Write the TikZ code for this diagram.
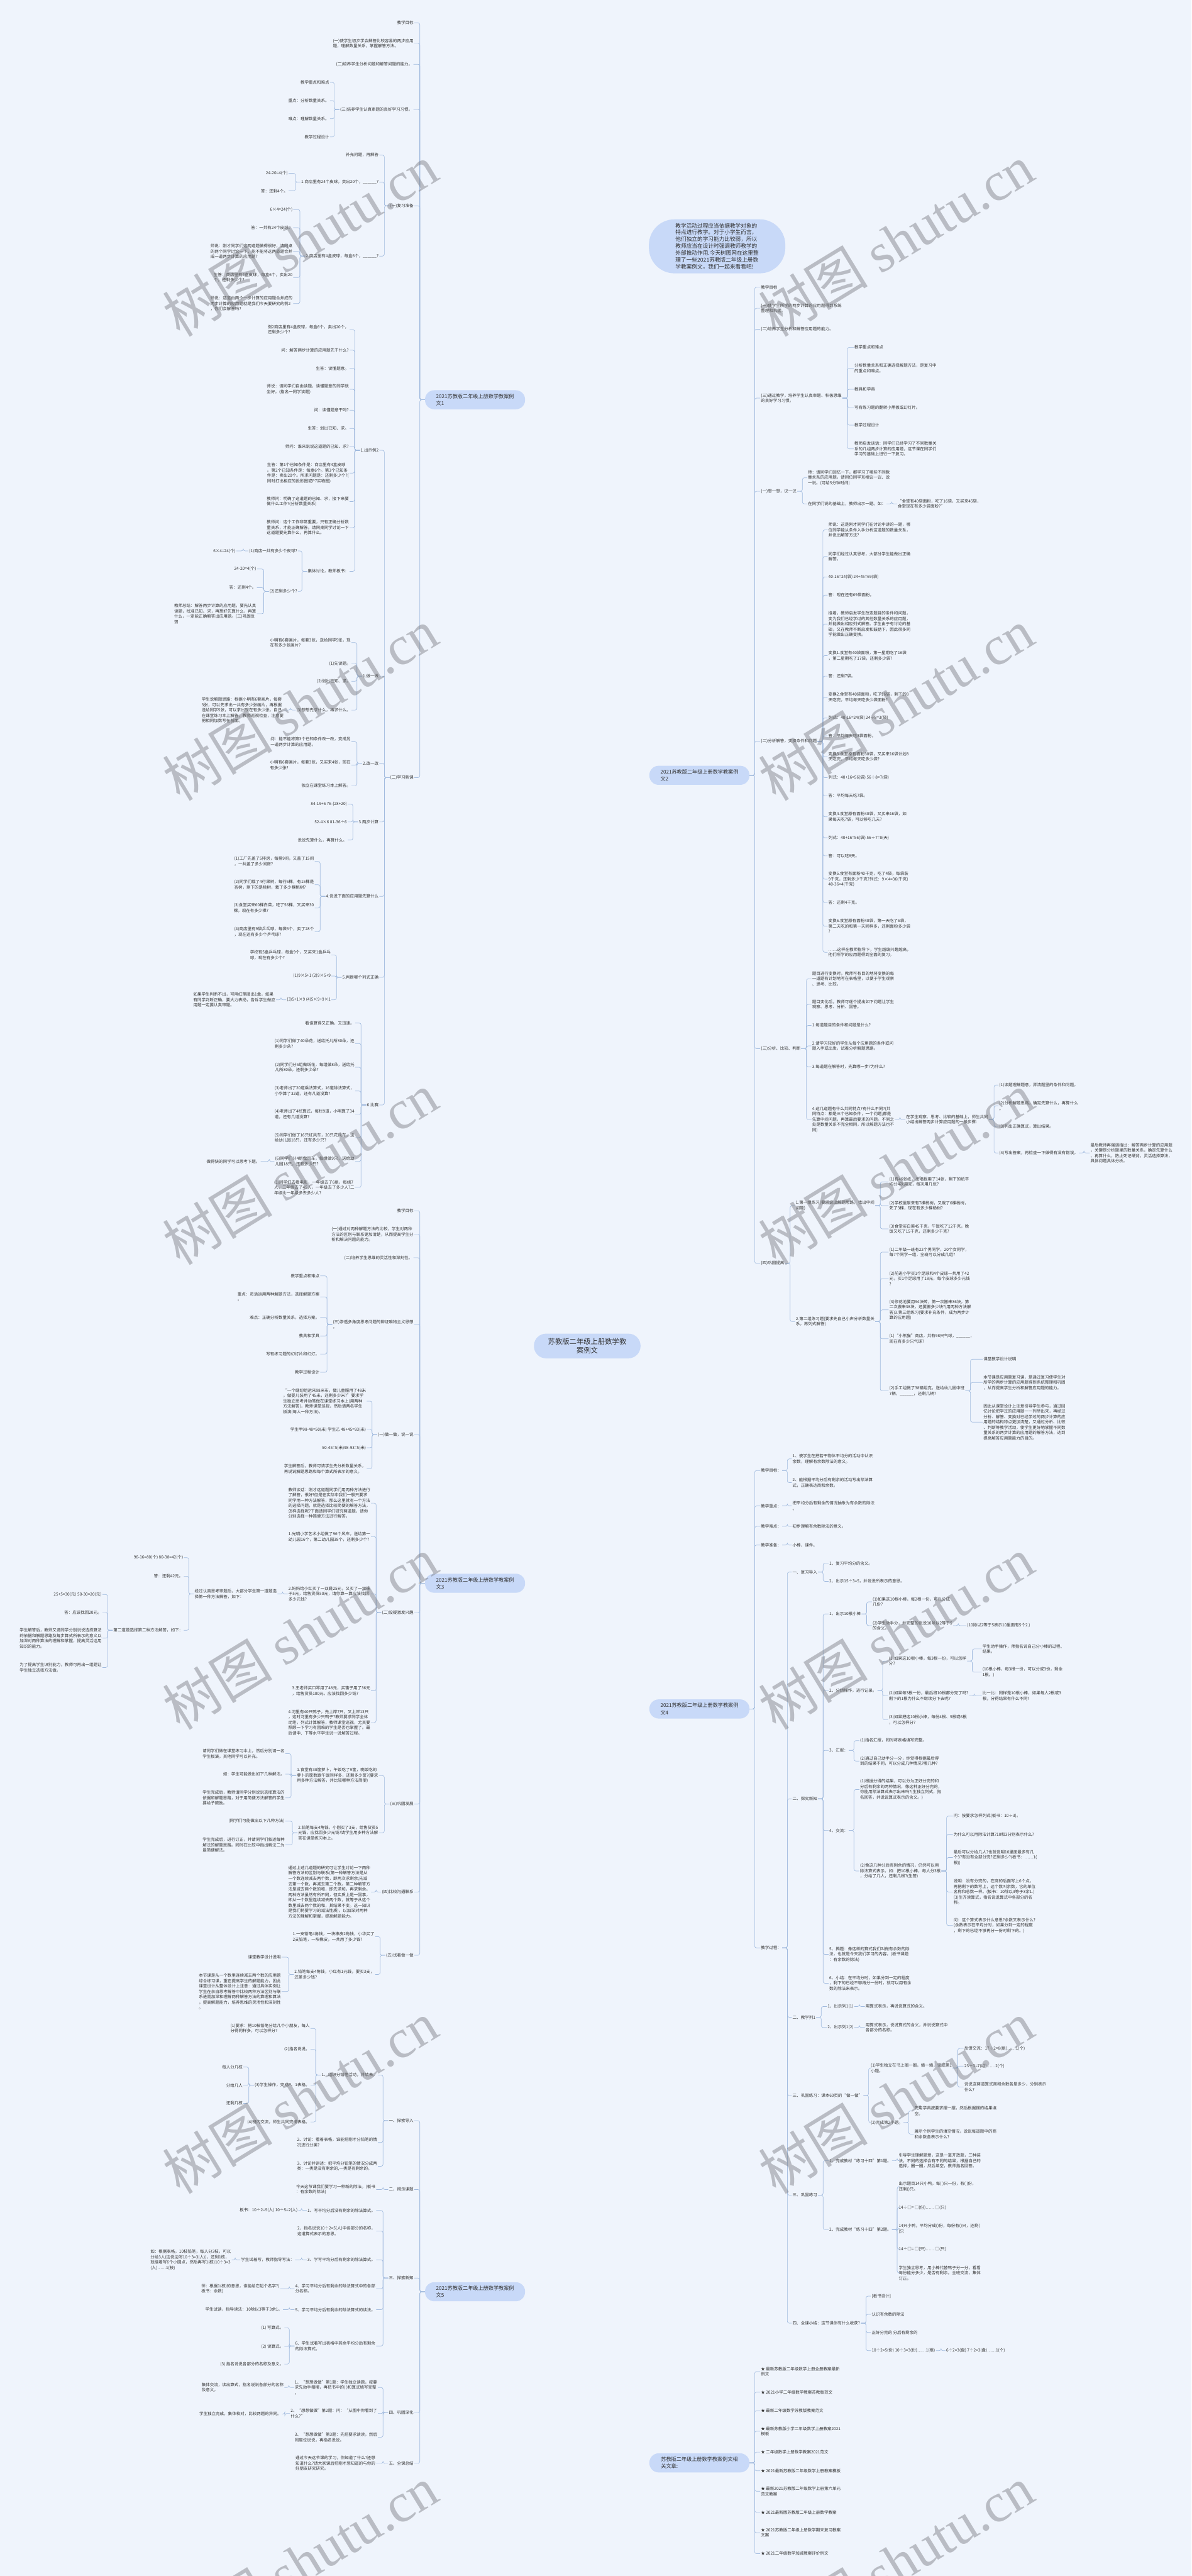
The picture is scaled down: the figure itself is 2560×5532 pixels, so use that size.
\documentclass[tikz,border=0pt]{standalone}
\usepackage{fontspec}
\setmainfont{Noto Sans CJK SC}
\newfontfamily\wmlatin{Liberation Serif}
\definecolor{bgc}{RGB}{239,244,252}
\definecolor{boxc}{RGB}{200,217,248}
\definecolor{linec}{RGB}{160,186,222}
\definecolor{txtc}{RGB}{50,50,50}
\definecolor{wmc}{RGB}{120,122,128}
\pgfdeclarelayer{bg}
\pgfsetlayers{bg,main}
\tikzset{
  leaf/.style={font=\fontsize{8.8}{11.5}\selectfont, text=txtc, inner sep=1.5pt, align=left},
  conn/.style={draw=linec, line width=0.9pt, rounded corners=4pt},
  mainconn/.style={draw=linec, line width=1.4pt},
  branchbox/.style={fill=boxc, rounded corners=20pt, font=\fontsize{11}{15}\selectfont, text=txtc, align=left, minimum width=215pt, minimum height=41pt, inner sep=0pt},
  wm/.style={text=wmc, text opacity=0.45, font=\fontsize{118}{118}\selectfont, rotate=31.4, inner sep=0pt}
}
\newcommand\LN[5]{\node[leaf,anchor=east] (#1) at (#3,#4) {#5};\draw[conn] (#2.west) -- ++(-11,0) |- (#1.east);}
\newcommand\RN[5]{\node[leaf,anchor=west] (#1) at (#3,#4) {#5};\draw[conn] (#2.east) -- ++(11,0) |- (#1.west);}
\begin{document}
\begin{tikzpicture}[x=1pt,y=-1pt]
\fill[bgc] (0,0) rectangle (2560,5532);
\useasboundingbox (0,0) rectangle (2560,5532);

% central and branch nodes
\node[fill=boxc, rounded corners=26pt, minimum width=229pt, minimum height=53pt, inner sep=0pt, align=center, text=txtc, font=\fontsize{15.3}{20}\selectfont] (C) at (1261.5,2890.5) {苏教版二年级上册数学教\\案例文};
\node[fill=boxc, rounded corners=55pt, minimum width=293pt, minimum height=116pt, inner sep=0pt, align=left, text=txtc, font=\fontsize{11.7}{14.8}\selectfont] (I) at (1540.5,529) {教学活动过程应当依据教学对象的\\特点进行教学。对于小学生而言，\\他们独立的学习能力比较弱，所以\\教师应当在设计时强调教师教学的\\外部推动作用.今天树图网在这里整\\理了一些2021苏教版二年级上册数\\学教案例文，我们一起来看看吧!};
\node[branchbox] (B1) at (1020.5,858.5) {2021苏教版二年级上册数学教案例\\文1};
\node[branchbox] (B3) at (1020.5,3400) {2021苏教版二年级上册数学教案例\\文3};
\node[branchbox] (B5) at (1020.5,4921.5) {2021苏教版二年级上册数学教案例\\文5};
\node[branchbox] (B2) at (1502.5,1665) {2021苏教版二年级上册数学教案例\\文2};
\node[branchbox] (B4) at (1502.5,3670) {2021苏教版二年级上册数学教案例\\文4};
\node[branchbox] (B6) at (1502.5,5289) {苏教版二年级上册数学教案例文相\\关文章:};

\begin{pgfonlayer}{bg}
\draw[mainconn] (C.center) .. controls (1262,529) .. (I.west);
\draw[mainconn] (C.center) .. controls (1262,1665) .. (B2.west);
\draw[mainconn] (C.center) .. controls (1262,3670) .. (B4.west);
\draw[mainconn] (C.center) .. controls (1262,5289) .. (B6.west);
\draw[mainconn] (C.center) .. controls (1262,858.5) .. (B1.east);
\draw[mainconn] (C.center) .. controls (1262,3400) .. (B3.east);
\draw[mainconn] (C.center) .. controls (1262,4921.5) .. (B5.east);
\end{pgfonlayer}

% ===== Branch 1 =====
\LN{a1}{B1}{890}{49}{教学目标}
\LN{a2}{B1}{890}{93}{(一)使学生初步学会解答比较容易的两步应用\\题，理解数量关系，掌握解答方法。}
\LN{a3}{B1}{888}{138}{(二)培养学生分析问题和解答问题的能力。}
\LN{a4}{B1}{888}{235}{(三)培养学生认真审题的良好学习习惯。}
\LN{a4a}{a4}{709}{177}{教学重点和难点}
\LN{a4b}{a4}{709}{216}{重点：分析数量关系。}
\LN{a4c}{a4}{709}{255}{难点：理解数量关系。}
\LN{a4d}{a4}{709}{294}{教学过程设计}
\LN{a5}{B1}{890}{442}{(一)复习准备}
\LN{a5a}{a5}{815}{333}{补充问题，再解答}
\LN{a5b}{a5}{815}{391}{1.商店里有24个皮球，卖出20个，\_\_\_\_\_\_?}
\LN{a5b1}{a5b}{620}{372}{24-20=4(个)}
\LN{a5b2}{a5b}{620}{410}{答：还剩4个。}
\LN{a5c}{a5}{815}{550}{2.商店里有4盒皮球，每盒6个，\_\_\_\_\_\_?}
\LN{a5c1}{a5c}{630}{450}{6×4=24(个)}
\LN{a5c2}{a5c}{630}{489}{答：一共有24个皮球。}
\LN{a5c3}{a5c}{630}{540}{师说：刚才同学们这两道题做得很好，请同桌\\的两个同学讨论一下，能不能将这两道题合并\\成一道两步计算的应用题?}
\LN{a5c4}{a5c}{630}{596}{生答：商店里有4盒皮球，每盒6个，卖出20\\个，还剩多少个?}
\LN{a5c5}{a5c}{630}{652}{师说：这道由两个一步计算的应用题合并成的\\两步计算的应用题就是我们今天要研究的例2\\，你们会解答吗?}
\LN{a6}{B1}{890}{1670}{(二)学习新课}
\LN{a6a}{a6}{815}{967}{1.出示例2}
\LN{a6a1}{a6a}{751}{708}{例2商店里有4盒皮球，每盒6个，卖出20个，\\还剩多少个?}
\LN{a6a2}{a6a}{751}{752}{问：解答两步计算的应用题先干什么?}
\LN{a6a3}{a6a}{751}{791}{生答：读懂题意。}
\LN{a6a4}{a6a}{751}{836}{师说：请同学们自由读题，读懂题意的同学就\\坐好。(指名一同学读题)}
\LN{a6a5}{a6a}{751}{881}{问：读懂题意干吗?}
\LN{a6a6}{a6a}{751}{920}{生答：划出已知、求。}
\LN{a6a7}{a6a}{751}{959}{师问：谁来说说这道题的已知、求?}
\LN{a6a8}{a6a}{751}{1016}{生答：第1个已知条件是：商店里有4盒皮球\\。第2个已知条件是：每盒6个。第3个已知条\\件是：卖出20个。所求问题是：还剩多少个?(\\同时打出相应的投影图或P7实物图)}
\LN{a6a9}{a6a}{751}{1077}{教师问：明确了这道题的已知、求，接下来要\\做什么工作?(分析数量关系)}
\LN{a6a10}{a6a}{751}{1133}{教师问：这个工作非常重要，只有正确分析数\\量关系，才能正确解答。请同桌同学讨论一下\\这道题要先算什么，再算什么。}
\LN{a6a11}{a6a}{751}{1227}{集体讨论，教师板书：}
\LN{a6b1}{a6a11}{640}{1183}{(1)商店一共有多少个皮球?}
\LN{a6b1a}{a6b1}{508}{1183}{6×4=24(个)}
\LN{a6b2}{a6a11}{640}{1270}{(2)还剩多少个?}
\LN{a6b2a}{a6b2}{552}{1222}{24-20=4(个)}
\LN{a6b2b}{a6b2}{552}{1262}{答：还剩4个。}
\LN{a6b2c}{a6b2}{552}{1318}{教师总结：解答两步计算的应用题，要先认真\\读题，找准已知、求，再想好先算什么，再算\\什么，一定能正确解答出应用题。(三)巩固反\\馈}
\LN{a6c}{a6}{815}{1452}{1.做一做}
\LN{a6c1}{a6c}{755}{1380}{小明有6套画片，每套3张，送给同学5张，现\\在有多少张画片?}
\LN{a6c2}{a6c}{755}{1425}{(1)先读题。}
\LN{a6c3}{a6c}{755}{1463}{(2)划出已知、求。}
\LN{a6c4}{a6c}{755}{1525}{(3)想想先求什么，再求什么。}
\LN{a6c4a}{a6c4}{611}{1525}{学生说解题思路：根据小明有6套画片，每套\\3张，可以先求出一共有多少张画片，再根据\\送给同学5张，可以求出现在有多少张。自己\\在课堂练习本上解答，教师巡视检查，注意要\\把相同加数写在前面。}
\LN{a6d}{a6}{815}{1639}{2.改一改}
\LN{a6d1}{a6d}{755}{1593}{问：能不能将第3个已知条件改一改，变成另\\一道两步计算的应用题。}
\LN{a6d2}{a6d}{755}{1643}{小明有6套画片，每套3张，又买来4张，现在\\有多少张?}
\LN{a6d3}{a6d}{755}{1687}{独立在课堂练习本上解答。}
\LN{a6e}{a6}{815}{1765}{3.两步计算}
\LN{a6e1}{a6e}{747}{1727}{84-19+6 76-(28+20)}
\LN{a6e2}{a6e}{747}{1765}{52-4×6 81-36÷6}
\LN{a6e3}{a6e}{747}{1804}{说说先算什么，再算什么。}
\LN{a6f}{a6}{815}{1925}{4.说说下面的应用题先算什么}
\LN{a6f1}{a6f}{676}{1850}{(1)工厂先盖了5排房，每排9间，又盖了15间\\，一共盖了多少间房?}
\LN{a6f2}{a6f}{676}{1900}{(2)同学们栽了4行果树，每行6棵，有15棵是\\杏树，剩下的是桃树，栽了多少棵桃树?}
\LN{a6f3}{a6f}{676}{1950}{(3)食堂买来60棵白菜，吃了56棵，又买来30\\棵，现在有多少棵?}
\LN{a6f4}{a6f}{676}{2001}{(4)商店里有9袋乒乓球，每袋5个，卖了28个\\，现在还有多少个乒乓球?}
\LN{a6g}{a6}{815}{2099}{5.判断哪个列式正确}
\LN{a6g1}{a6g}{712}{2051}{学校有5盒乒乓球，每盒9个，又买来1盒乒乓\\球，现在有多少个?}
\LN{a6g2}{a6g}{712}{2096}{(1)9×5+1 (2)9×5+9}
\LN{a6g3}{a6g}{712}{2147}{(3)5+1×9 (4)5×9+9×1}
\LN{a6g3a}{a6g3}{593}{2147}{如果学生判断不出，可用红笔圈出1盒，如果\\有同学判断正确，要大力表扬，告诉学生做应\\用题一定要认真审题。}
\LN{a6h}{a6}{815}{2373}{6.比赛}
\LN{a6h1}{a6h}{763}{2197}{看谁算得又正确，又迅速。}
\LN{a6h2}{a6h}{763}{2241}{(1)同学们做了40朵花，送给托儿所30朵，还\\剩多少朵?}
\LN{a6h3}{a6h}{763}{2292}{(2)同学们分5组做纸花，每组做8朵，送给托\\儿所30朵，还剩多少朵?}
\LN{a6h4}{a6h}{763}{2343}{(3)老师出了20道乘法算式，16道除法算式，\\小华算了32道，还有几道没算?}
\LN{a6h5}{a6h}{763}{2393}{(4)老师出了4栏算式，每栏9道，小明算了34\\道，还有几道没算?}
\LN{a6h6}{a6h}{763}{2443}{(5)同学们做了16只红风车，20只花风车，送\\给幼儿园18只，还有多少只?}
\LN{a6h7}{a6h}{763}{2494}{(6)同学们分4组做风车，每组做9只，送给幼\\儿园18只，还有多少只?}
\LN{a6h7a}{a6h7}{560}{2494}{做得快的同学可以思考下题。}
\LN{a6h8}{a6h}{763}{2550}{(1)同学们去看电影，一年级去了6组，每组7\\人，二年级去了45人，一年级去了多少人?二\\年级比一年级多去多少人?}

% ===== Branch 3 =====
\LN{c1}{B3}{890}{2600}{教学目标}
\LN{c2}{B3}{890}{2651}{(一)通过对两种解题方法的比较，学生对两种\\方法的区别与联系更加清楚，从而提高学生分\\析和解决问题的能力。}
\LN{c3}{B3}{888}{2701}{(二)培养学生思维的灵活性和深刻性。}
\LN{c4}{B3}{890}{2844}{(三)渗透多角度思考问题的辩证唯物主义思想\\。}
\LN{c4a}{c4}{688}{2740}{教学重点和难点}
\LN{c4b}{c4}{688}{2785}{重点：灵活运用两种解题方法，选择解题方案\\。}
\LN{c4c}{c4}{688}{2829}{难点：正确分析数量关系，选择方案。}
\LN{c4d}{c4}{688}{2869}{教具和学具}
\LN{c4e}{c4}{688}{2908}{写有练习题的幻灯片和幻灯。}
\LN{c4f}{c4}{688}{2947}{教学过程设计}
\LN{c5}{B3}{890}{3081}{(一)做一做，说一说}
\LN{c5a}{c5}{788}{3009}{“一个缝纫组运来98米布，做儿童服用了48米\\，做婴儿装用了45米，还剩多少米?”要求学\\生独立思考并动笔做在课堂练习本上(用两种\\方法解答)，教师课堂巡视，然后请两名学生\\板演(每人一种方法)。}
\LN{c5b}{c5}{788}{3070}{学生甲98-48=50(米) 学生乙 48+45=93(米)}
\LN{c5c}{c5}{788}{3109}{50-45=5(米)98-93=5(米)}
\LN{c5d}{c5}{788}{3154}{学生解答后，教师可请学生先分析数量关系，\\再说说解题思路和每个算式所表示的意义。}
\LN{c6}{B3}{890}{3463}{(二)设疑激发兴趣}
\LN{c6a}{c6}{797}{3228}{教师谈话：刚才这道题同学们用两种方法进行\\了解答，很好!但是在实际中我们一般只要求\\同学用一种方法解答，那么这里就有一个方法\\的选择问题，就是选择比较简便的解答方法，\\怎样选择呢?下面请同学们研究两道题，请你\\分别选择一种简便方法进行解答。}
\LN{c6b}{c6}{797}{3300}{1.光明小学艺术小组做了96个风车，送给第一\\幼儿园16个，第二幼儿园38个，还剩多少个?}
\LN{c6c}{c6}{797}{3423}{2.妈妈给小红买了一双鞋25元，又买了一双袜\\子5元，给售货员50元，请你算一算应该找回\\多少元钱?}
\LN{c6c1}{c6c}{596}{3423}{经过认真思考审题后，大部分学生第一道题选\\择第一种方法解答，如下：}
\LN{c6c1a}{c6c1}{395}{3345}{96-16=80(个) 80-38=42(个)}
\LN{c6c1b}{c6c1}{395}{3385}{答：还剩42元。}
\LN{c6c1c}{c6c1}{395}{3501}{第二道题选择第二种方法解答，如下：}
\LN{d1}{c6c1c}{220}{3424}{25+5=30(元) 50-30=20(元)}
\LN{d2}{c6c1c}{220}{3463}{答：应该找回20元。}
\LN{d3}{c6c1c}{220}{3518}{学生解答后，教师又请同学分别说说选择算法\\的依据和解题思路及每步算式所表示的意义以\\加深对两种算法的理解和掌握，提高灵活运用\\知识的能力。}
\LN{d4}{c6c1c}{220}{3581}{为了提高学生识别能力，教师可再出一组题让\\学生独立选择方法做。}
\LN{c6d}{c6}{797}{3631}{3.王老师买口琴用了48元，买笛子用了36元\\，给售货员100元，应该找回多少钱?}
\LN{c6e}{c6}{797}{3699}{4.河里有40只鸭子，先上岸7只，又上岸13只\\，这时河里有多少只鸭子?教师要求同学全体\\动笔，列式计算解答，教师课堂巡视，尤其要\\照顾一下学习有困难的学生是否也掌握了。最\\后请中、下等水平学生说一说解答过程。}
\LN{c7}{B3}{890}{3874}{(三)巩固发展}
\LN{c7a}{c7}{814}{3813}{1.食堂有38筐萝卜，午饭吃了9筐，晚饭吃的\\萝卜的筐数跟午饭同样多，还剩多少筐?(要求\\用多种方法解答，并比较哪种方法简便)}
\LN{e1}{c7a}{613}{3766}{请同学们做在课堂练习本上，然后分别请一名\\学生板演，其他同学可以补充。}
\LN{e2}{c7a}{613}{3810}{如：学生可能做出如下几种解法。}
\LN{e3}{c7a}{613}{3861}{学生完成后，教师请同学分别说说选择算法的\\依据和解题思路，对于用简便方法解答的学生\\要给予鼓励。}
\LN{c7b}{c7}{814}{3936}{2.铅笔每支4角钱，小刚买了3支，给售货员5\\元钱，应找回多少元钱?请学生用多种方法解\\答在课堂练习本上。}
\LN{e4}{c7b}{613}{3911}{(同学们可能做出以下几种方法)}
\LN{e5}{c7b}{613}{3962}{学生完成后，进行订正，并请同学们叙述每种\\解法的解题思路。同时在比较中指出解法二为\\最简便解法。}
\LN{c8}{B3}{890}{4063}{(四)比较沟通联系}
\LN{c8a}{c8}{797}{4063}{通过上述几道题的研究可让学生讨论一下两种\\解答方法的区别与联系(第一种解答方法是从\\一个数连续减去两个数，即两次求剩余;先减\\去第一个数，再减去第二个数。第二种解答方\\法是减去两个数的和，即先求和，再求剩余。\\两种方法虽然有所不同，但实质上是一回事，\\即从一个数里连续减去两个数，就等于从这个\\数里减去两个数的和，其结果不变。这一知识\\是我们将要学习的减法性质)。以加深对两种\\方法的理解和掌握，提高解题能力。}
\LN{c9}{B3}{890}{4199}{(五)试着做一做}
\LN{c9a}{c9}{806}{4159}{1.一支铅笔4角钱，一块橡皮2角钱，小华买了\\2支铅笔，一块橡皮，一共用了多少钱?}
\LN{c9b}{c9}{806}{4240}{2.铅笔每支4角钱，小红有1元钱，要买3支，\\还差多少钱?}
\LN{c9b1}{c9b}{605}{4203}{课堂教学设计说明}
\LN{c9b2}{c9b}{605}{4277}{本节课是从一个数里连续减去两个数的应用题\\综合练习课，重在提高学生的解题能力，因此\\课堂设计从整体设计上注意：通过具体实例让\\学生在亲自思考解答中比较两种方法区别与联\\系进而加深和理解两种解答方法的算理和算法\\，提高解题能力，培养思维的灵活性和深刻性\\。}

% ===== Branch 5 =====
\LN{f1}{B5}{890}{4554}{一、探索导入}
\LN{f1a}{f1}{812}{4456}{1、组织分铅笔活动，并填表。}
\LN{g1}{f1a}{667}{4356}{(1)要求：把10枝铅笔分给几个小朋友，每人\\分得同样多，可以怎样分?}
\LN{g2}{f1a}{667}{4401}{(2)指名说说。}
\LN{g3}{f1a}{667}{4478}{(3)学生操作，完成P、1表格。}
\LN{g3a}{g3}{523}{4439}{每人分几枝}
\LN{g3b}{g3}{523}{4478}{分给几人}
\LN{g3c}{g3}{523}{4517}{还剩几枝}
\LN{g4}{f1a}{667}{4557}{(4)班内交流，师生共同完成表格。}
\LN{f1b}{f1}{812}{4601}{2、讨论：看着表格，谁能把刚才分铅笔的情\\况进行分类?}
\LN{f1c}{f1}{812}{4652}{3、讨论并讲述：把平均分铅笔的情况分成两\\类：一类是没有剩余的,一类是有剩余的。}
\LN{f2}{B5}{890}{4702}{二、揭示课题}
\LN{f2a}{f2}{808}{4702}{今天这节课我们要学习一种新的除法。(板书\\：有余数的除法)}
\LN{f3}{B5}{890}{4892}{三、探索新知}
\LN{f3a}{f3}{808}{4747}{1、写平均分后没有剩余的除法算式。}
\LN{f3a1}{f3a}{641}{4747}{板书：10÷2=5(人) 10÷5=2(人)}
\LN{f3b}{f3}{808}{4791}{2、指名说说10÷2=5(人)中各部分的名称，\\这道算式表示的意思。}
\LN{f3c}{f3}{808}{4853}{3、学写平均分后有剩余的除法算式。}
\LN{f3c1}{f3c}{634}{4853}{学生试着写，教师指导写法：}
\LN{f3c1a}{f3c1}{498}{4853}{如：根据表格，10枝铅笔，每人分3枝，可以\\分给3人(边说边写10÷3=3(人))，还剩1枝，\\就接着写6个小圆点，然后再写1(枝)10÷3=3\\(人)……1(枝)}
\LN{f3d}{f3}{808}{4915}{4、学习平均分后有剩余的除法算式中的各部\\分名称。}
\LN{f3d1}{f3d}{602}{4915}{师：根据1(枝)的意思，谁能给它起个名字?(\\板书：余数)}
\LN{f3e}{f3}{808}{4960}{5、学习平均分后有剩余的除法算式的读法。}
\LN{f3e1}{f3e}{608}{4960}{学生试读，指导读法：10除以3等于3余1。}
\LN{f3f}{f3}{808}{5038}{6、学生试着写出表格中其余平均分后有剩余\\的除法算式。}
\LN{h1}{f3f}{611}{4999}{(1) 写算式。}
\LN{h2}{f3f}{611}{5039}{(2) 读算式。}
\LN{h3}{f3f}{611}{5077}{(3) 指名说说各部分的名称及意义。}
\LN{f4}{B5}{890}{5181}{四、巩固深化}
\LN{f4a}{f4}{812}{5127}{1、“想想做做”第1题：学生独立读题，按要\\求先动手摆摆，再把书中的( )和算式填写完整\\。}
\LN{f4a1}{f4a}{611}{5127}{集体交流，读出算式，指名说说各部分的名称\\及意义。}
\LN{f4b}{f4}{812}{5183}{2、“想想做做”第2题：问：“从图中你看到了\\什么?”}
\LN{f4b1}{f4b}{606}{5184}{学生独立完成，集体校对，比较两题的异同。}
\LN{f4c}{f4}{812}{5234}{3、“想想做做”第3题：先把要求读读，然后\\同座位说说，再指名说说。}
\LN{f5}{B5}{890}{5290}{五、全课总结}
\LN{f5a}{f5}{808}{5290}{通过今天这节课的学习，你知道了什么?还想\\知道什么?请大家课后把刚才想知道的与你的\\好朋友研究研究。}

% ===== Branch 2 =====
\RN{p1}{B2}{1633}{617}{教学目标}
\RN{p2}{B2}{1633}{662}{(一)使学生所学的两步计算的应用题得到系统\\整理和巩固。}
\RN{p3}{B2}{1633}{707}{(二)培养学生分析和解答应用题的能力。}
\RN{p4}{B2}{1633}{855}{(三)通过教学，培养学生认真审题、积极思维\\的良好学习习惯。}
\RN{p4a}{p4}{1834}{746}{教学重点和难点}
\RN{p4b}{p4}{1834}{791}{分析数量关系和正确选择解题方法，是复习中\\的重点和难点。}
\RN{p4c}{p4}{1834}{836}{教具和学具}
\RN{p4d}{p4}{1834}{875}{写有练习题的翻转小黑板或幻灯片。}
\RN{p4e}{p4}{1834}{913}{教学过程设计}
\RN{p4f}{p4}{1834}{964}{教师启发谈话：同学们已经学习了不同数量关\\系的几组两步计算的应用题，这节课在同学们\\学习的基础上进行一下复习。}
\RN{p5}{B2}{1633}{1055}{(一)想一想，议一议}
\RN{p5a}{p5}{1734}{1026}{师：请同学们回忆一下，都学习了哪些不同数\\量关系的应用题。请同位同学互相议一议、说\\一说。(可给5分钟时间)}
\RN{p5b}{p5}{1734}{1082}{在同学们说的基础上，教师出示一题。如：}
\RN{p5b1}{p5b}{1927}{1082}{“食堂有40袋面粉，吃了16袋，又买来45袋，\\食堂现在有多少袋面粉?”}
\RN{p6}{B2}{1633}{1592}{(二)分析解答，变换条件和问题}
\RN{q1}{p6}{1778}{1138}{师说：这是刚才同学们在讨论中讲的一题，哪\\位同学能从条件入手分析这道题的数量关系，\\并说出解答方法?}
\RN{q2}{p6}{1778}{1195}{同学们经过认真思考，大部分学生能做出正确\\解答。}
\RN{q3}{p6}{1778}{1239}{40-16=24(袋) 24+45=69(袋)}
\RN{q4}{p6}{1778}{1278}{答：现在还有69袋面粉。}
\RN{q5}{p6}{1778}{1340}{接着，教师启发学生改变题目的条件和问题，\\变为我们已经学过的其他数量关系的应用题，\\并能做出相应列式解答。学生由于有讨论的基\\础，又在教师不断启发和鼓励下，因此很多同\\学能做出正确变换。}
\RN{q6}{p6}{1778}{1408}{变换1.食堂有40袋面粉，第一星期吃了16袋\\，第二星期吃了17袋，还剩多少袋?}
\RN{q7}{p6}{1778}{1452}{答：还剩7袋。}
\RN{q8}{p6}{1778}{1497}{变换2.食堂有40袋面粉，吃了16袋，剩下的8\\天吃完，平均每天吃多少袋面粉?}
\RN{q9}{p6}{1778}{1542}{列式：40-16=24(袋) 24÷8=3(袋)}
\RN{q10}{p6}{1778}{1580}{答：平均每天吃3袋面粉。}
\RN{q11}{p6}{1778}{1625}{变换3.食堂原有面粉30袋，又买来16袋计划8\\天吃完，平均每天吃多少袋?}
\RN{q12}{p6}{1778}{1670}{列式：40+16=56(袋) 56÷8=7(袋)}
\RN{q13}{p6}{1778}{1709}{答：平均每天吃7袋。}
\RN{q14}{p6}{1778}{1754}{变换4.食堂原有面粉40袋，又买来16袋，如\\果每天吃7袋，可以够吃几天?}
\RN{q15}{p6}{1778}{1799}{列式：40+16=56(袋) 56÷7=8(天)}
\RN{q16}{p6}{1778}{1838}{答：可以吃8天。}
\RN{q17}{p6}{1778}{1888}{变换5.食堂有面粉40千克，吃了4袋，每袋装\\9千克，还剩多少千克?列式：9×4=36(千克)\\40-36=4(千克)}
\RN{q18}{p6}{1778}{1938}{答：还剩4千克。}
\RN{q19}{p6}{1778}{1989}{变换6.食堂原有面粉40袋，第一天吃了6袋，\\第二天吃的和第一天同样多，还剩面粉多少袋\\?}
\RN{q20}{p6}{1778}{2045}{……这样在教师指导下，学生越编兴趣越高，\\他们所学的应用题得到全面的复习。}
\RN{p7}{B2}{1633}{2252}{(三)分析、比较、判断}
\RN{r1}{p7}{1743}{2102}{题目进行变换时，教师可有目的地将变换的每\\一道题有计划地写在表格里，以便于学生观察\\、思考、比较。}
\RN{r2}{p7}{1743}{2157}{题目变化后，教师可逐个提出如下问题让学生\\观察、思考、分析、回答。}
\RN{r3}{p7}{1743}{2202}{1.每道题目的条件和问题是什么?}
\RN{r4}{p7}{1743}{2246}{2.请学习较好的学生从每个应用题的条件或问\\题入手或出发，试着分析解题思路。}
\RN{r5}{p7}{1743}{2291}{3.每道题在解答时，先算哪一步?为什么?}
\RN{r6}{p7}{1743}{2404}{4.这几道题有什么共同特点?有什么不同?(共\\同特点：都是三个已知条件，一个问题;都是\\先算中间问题，再算最后要求的问题。不同之\\处是数量关系不完全相同，所以解题方法也不\\同)}
\RN{r6a}{r6}{1945}{2404}{在学生观察、思考、比较的基础上，师生共同\\小结出解答两步计算应用题的一般步骤：}
\RN{s1}{r6a}{2145}{2330}{(1)读题理解题意，弄清题里的条件和问题。}
\RN{s2}{r6a}{2145}{2375}{(2)分析解题思路，确定先算什么，再算什么\\。}
\RN{s3}{r6a}{2145}{2420}{(3)列出正确算式，算出结果。}
\RN{s4}{r6a}{2145}{2476}{(4)写出答案，再检查一下做得有没有错误。}
\RN{s4a}{s4}{2341}{2476}{最后教师再强调指出：解答两步计算的应用题\\，关键是分析题里的数量关系，确定先算什么\\、再算什么，防止死记硬背，灵活选择算法，\\具体问题具体分析。}
\RN{p8}{B2}{1633}{2713}{(四)巩固提高}
\RN{t1}{p8}{1708}{2589}{1.第一组练习(要求说出解题思路，找出中间\\问题)}
\RN{t1a}{t1}{1909}{2538}{(1)有46张纸，出墙报用了14张，剩下的纸平\\均分4次用完，每次用几张?}
\RN{t1b}{t1}{1909}{2589}{(2)学校里原来有7棵杨树，又栽了6棵杨树，\\死了3棵，现在有多少棵杨树?}
\RN{t1c}{t1}{1909}{2639}{(3)食堂买白菜45千克，午饭吃了12千克，晚\\饭又吃了15千克，还剩多少千克?}
\RN{t2}{p8}{1708}{2838}{2.第二组练习题(要求先自己小声分析数量关\\系，再列式解答)}
\RN{t2a}{t2}{1909}{2689}{(1)二年级一班有22个男同学，20个女同学，\\每7个同学一组，全班可以分成几组?}
\RN{t2b}{t2}{1909}{2746}{(2)前进小学买1个足球和4个皮球一共用了42\\元，买1个足球用了18元，每个皮球多少元钱\\?}
\RN{t2c}{t2}{1909}{2813}{(3)修花池要用94块砖，第一次搬来36块，第\\二次搬来38块，还要搬多少块?(用两种方法解\\答)3.第三组练习(要求补充条件，成为两步计\\算的应用题)}
\RN{t2d}{t2}{1909}{2875}{(1)“小熊猫”商店，共有98只气球，\_\_\_\_\_\_，\\现在有多少只气球?}
\RN{t2e}{t2}{1909}{2987}{(2)手工组做了38辆坦克，送给幼儿园中班\\7辆，\_\_\_\_\_\_，还剩几辆?}
\RN{t2e1}{t2e}{2111}{2919}{课堂教学设计说明}
\RN{t2e2}{t2e}{2111}{2969}{本节课是应用题复习课，是通过复习使学生对\\所学的两步计算的应用题得到系统整理和巩固\\，从而提高学生分析和解答应用题的能力。}
\RN{t2e3}{t2e}{2111}{3054}{因此从课堂设计上注意引导学生参与，通过回\\忆讨论把学过的应用题一一列举出来，再经过\\分析、解答、变换对已经学过的两步计算的应\\用题的结构特点更加清楚，又通过分析、比较\\、判断等教学活动，使学生更好地掌握不同数\\量关系的两步计算的应用题的解答方法，达到\\提高解答应用题能力的目的。}

% ===== Branch 4 =====
\RN{u1}{B4}{1633}{3158}{教学目标：}
\RN{u1a}{u1}{1701}{3133}{1、使学生在把若干物体平均分的活动中认识\\余数，理解有余数除法的意义。}
\RN{u1b}{u1}{1701}{3184}{2、能根据平均分后有剩余的活动写出除法算\\式，正确表达商和余数。}
\RN{u2}{B4}{1633}{3234}{教学重点：}
\RN{u2a}{u2}{1701}{3234}{把平均分后有剩余的情况抽象为有余数的除法\\。}
\RN{u3}{B4}{1633}{3278}{教学难点：}
\RN{u3a}{u3}{1701}{3278}{初步理解有余数除法的意义。}
\RN{u4}{B4}{1633}{3318}{教学准备：}
\RN{u4a}{u4}{1701}{3318}{小棒、课件。}
\RN{u5}{B4}{1633}{4183}{教学过程：}
\RN{v1}{u5}{1701}{3376}{一、复习导入}
\RN{v1a}{v1}{1780}{3357}{1、复习平均分的含义。}
\RN{v1b}{v1}{1780}{3396}{2、出示15÷3=5，并说说所表示的意思。}
\RN{v2}{u5}{1701}{3863}{二、探究新知}
\RN{w1}{v2}{1780}{3466}{1、出示10根小棒}
\RN{w1a}{w1}{1873}{3440}{(1)如果这10根小棒，每2根一份，可以分成\\几份?}
\RN{w1b}{w1}{1873}{3491}{(2)学生动手分，并完整的说说10除以2等于5\\的含义。}
\RN{w1b1}{w1b}{2076}{3491}{(10除以2等于5表示10里面有5个2.)}
\RN{w2}{v2}{1780}{3630}{2、分组操作，进行记录。}
\RN{w2a}{w2}{1908}{3567}{(1)如果这10根小棒，每3根一份，可以怎样\\分?}
\RN{w2a1}{w2a}{2109}{3541}{学生动手操作，师指名说自己分小棒的过程、\\结果。}
\RN{w2a2}{w2a}{2109}{3591}{(10根小棒，每3根一份，可以分成3份，剩余\\1根。)}
\RN{w2b}{w2}{1908}{3642}{(2)如果每3根一份，最后将10根都分完了吗?\\剩下的1根为什么不继续分下去呢?}
\RN{w2b1}{w2b}{2109}{3642}{比一比：同样是10根小棒，如果每人2根或3\\根，分得结果有什么不同?}
\RN{w2c}{w2}{1908}{3693}{(3)如果把这10根小棒，每份4根、5根或6根\\，可以怎样分?}
\RN{w3}{v2}{1780}{3759}{3、汇报：}
\RN{w3a}{w3}{1846}{3738}{(1)指名汇报，同时将表格填写完整。}
\RN{w3b}{w3}{1846}{3782}{(2)通过自己动手分一分，你觉得根据最后得\\到的结果不同，可以分成几种情况?哪几种?}
\RN{w4}{v2}{1780}{3931}{4、交流：}
\RN{w4a}{w4}{1846}{3843}{(1)根据分得的结果，可以分为正好分完的和\\分后有剩余的两种情况，像这种正好分完的，\\你能用除法算式表示出来吗?(生独立列式，指\\名回答，并说说算式表示的含义。)}
\RN{w4b}{w4}{1846}{4018}{(2)像这几种分后有剩余的情况，仍然可以用\\除法算式表示。如：把10根小棒，每人分3根\\，分给了几人，还剩几根?(生答)}
\RN{x1}{w4b}{2047}{3900}{问：按要求怎样列式(板书：10÷3)。}
\RN{x2}{w4b}{2047}{3939}{为什么可以用除法计算?10和3分别表示什么?}
\RN{x3}{w4b}{2047}{3989}{最后可以分给几人?也就说明10里面最多有几\\个3?有没有全部分完?还剩多少?(板书：……1(\\根))}
\RN{x4}{w4b}{2047}{4063}{说明：没有分完的，在商的后面写上6个点，\\再把剩下的数写上，这个数叫余数，它的单位\\名称和总数一样。(板书：10除以3等于3余1.)\\(3)生齐读算式，指名说说算式中各部分的名\\称。}
\RN{x5}{w4b}{2047}{4135}{问：这个算式表示什么意思?余数又表示什么?\\(余数表示在平均分时，如果分到一定的程度\\，剩下的已经不够再分一份时剩下的。)}
\RN{w5}{v2}{1780}{4197}{5、揭题：像这样的算式我们叫做有余数的除\\法，也就是今天我们学习的内容。(板书课题\\：有余数的除法)}
\RN{w6}{v2}{1780}{4259}{6、小结：在平均分时，如果分到一定的程度\\，剩下的已经不够再分一份时，就可以用有余\\数的除法来表示。}
\RN{v3}{u5}{1701}{4332}{二、教学列1}
\RN{y1}{v3}{1776}{4309}{1、出示列1(1)}
\RN{y1a}{y1}{1858}{4309}{用算式表示，再说说算式的含义。}
\RN{y2}{v3}{1776}{4354}{2、出示列1(2)}
\RN{y2a}{y2}{1858}{4354}{用算式表示，说说算式的含义，并说说算式中\\各部分的名称。}
\RN{v4}{u5}{1701}{4500}{三、巩固练习：课本60页的“做一做”}
\RN{z1}{v4}{1869}{4441}{(1)学生独立在书上圈一圈，填一填，完成第1\\小题。}
\RN{z1a}{z1}{2070}{4399}{反馈交流：17÷2=8(组)……1(个)}
\RN{z1b}{z1}{2070}{4437}{23÷3=7(组)……2(个)}
\RN{z1c}{z1}{2070}{4482}{说说这两道算式商和余数各是多少，分别表示\\什么?}
\RN{z2}{v4}{1869}{4558}{(2)完成第2小题。}
\RN{z2a}{z2}{1963}{4533}{先用学具按要求摆一摆，然后根据摆的结果填\\空。}
\RN{z2b}{z2}{1963}{4583}{展示个别学生的填空情况，说说每道题中的商\\和余数各表示什么?}
\RN{v5}{u5}{1701}{4714}{三、巩固练习}
\RN{k1}{v5}{1780}{4640}{1、完成教材“练习十四”第1题。}
\RN{k1a}{k1}{1929}{4640}{引导学生理解题意，这是一道开放题，三种装\\法，不同的选择会有不同的结果，根据自己的\\选择，圈一圈，然后填空，教师指名回答。}
\RN{k2}{v5}{1780}{4788}{2、完成教材“练习十四”第2题。}
\RN{k2a}{k2}{1929}{4696}{出示题目14只小鸭，每( )只一份，有( )份，\\还剩()只。}
\RN{k2b}{k2}{1929}{4741}{14÷□= □(份)…… □(只)}
\RN{k2c}{k2}{1929}{4786}{14只小鸭，平均分成()份，每份有()只，还剩(\\)只}
\RN{k2d}{k2}{1929}{4830}{14÷□= □(只)…… □(只)}
\RN{k2e}{k2}{1929}{4881}{学生独立思考，用小棒代替鸭子分一分，看看\\每份能分多少，是否有剩余。全班交流，集体\\订正。}
\RN{v6}{u5}{1701}{4989}{四、全课小结：这节课你有什么收获?}
\RN{m1}{v6}{1871}{4931}{{[}板书设计{]}}
\RN{m2}{v6}{1871}{4970}{认识有余数的除法}
\RN{m3}{v6}{1871}{5009}{正好分完的 分后有剩余的}
\RN{m4}{v6}{1871}{5048}{10÷2=5(份) 10÷3=3(份)……1(根)}
\RN{m4a}{m4}{2031}{5048}{6÷2=3(盘) 7÷2=3(盘)……1(个)}

% ===== Related =====
\RN{n1}{B6}{1633}{5093}{★ 最新苏教版二年级数学上册全册教案最新\\例文}
\RN{n2}{B6}{1633}{5137}{★ 2021小学二年级数学教案苏教版范文}
\RN{n3}{B6}{1633}{5177}{★ 最新二年级数学苏教版教案范文}
\RN{n4}{B6}{1633}{5221}{★ 最新苏教版小学二年级数学上册教案2021\\模板}
\RN{n5}{B6}{1633}{5266}{★ 二年级数学上册数学教案2021范文}
\RN{n6}{B6}{1633}{5306}{★ 2021最新苏教版二年级数学上册教案模板}
\RN{n7}{B6}{1633}{5350}{★ 最新2021苏教版二年级数学上册第六单元\\范文教案}
\RN{n8}{B6}{1633}{5395}{★ 2021最新版苏教版二年级上册数学教案}
\RN{n9}{B6}{1633}{5439}{★ 2021苏教版二年级上册数学期末复习教案\\文案}
\RN{n10}{B6}{1633}{5484}{★ 2021二年级数学加减教案评价例文}

% ===== watermarks =====
\foreach \wy [count=\i] in {516,1513,2510,3507,4504,5501} {
  \node[wm] (wmL\i) at (645,\wy) {树图 {\wmlatin shutu.cn}};
  \node[wm] (wmR\i) at (1925,\wy) {树图 {\wmlatin shutu.cn}};
}
\end{tikzpicture}
\end{document}
